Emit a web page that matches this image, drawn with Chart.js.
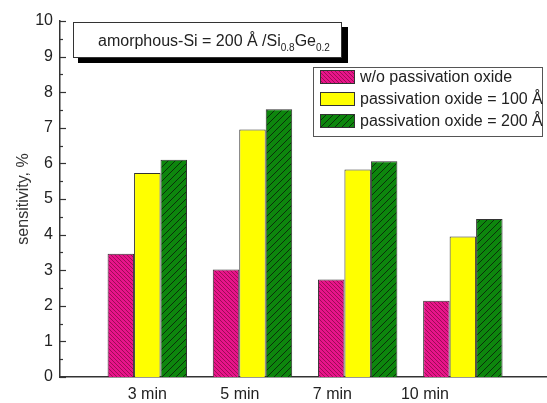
<!DOCTYPE html>
<html>
<head>
<meta charset="utf-8">
<script src="https://cdn.jsdelivr.net/npm/chart.js@4"></script>
<style>
  html, body { margin: 0; padding: 0; background: #fff; }
  #wrap { width: 547px; height: 403px; }
</style>
</head>
<body>
<div id="wrap"><canvas id="chart"></canvas></div>
<script>
const categories = ['3 min', '5 min', '7 min', '10 min'];
const seriesNames = ['w/o passivation oxide', 'passivation oxide = 100 Å', 'passivation oxide = 200 Å'];
const noOxide = [3.46, 3.02, 2.74, 2.14];
const oxide100 = [5.73, 6.95, 5.83, 3.95];
const oxide200 = [6.10, 7.52, 6.06, 4.44];
const yTicks = [0, 1, 2, 3, 4, 5, 6, 7, 8, 9, 10];

const FONT = '"Liberation Sans", Arial, Helvetica, sans-serif';
const X_MIN = -0.83, X_MAX = 3.8;
const LABEL_STEP = 0.88; // the category labels sit a bit tighter than the bar groups

// small tiled hatch fills
function hatch(bg, line, size, dir, lw) {
  const c = document.createElement('canvas');
  c.width = size; c.height = size;
  const g = c.getContext('2d');
  g.fillStyle = bg;
  g.fillRect(0, 0, size, size);
  g.strokeStyle = line;
  g.lineWidth = lw;
  g.beginPath();
  if (dir === '\\') {
    g.moveTo(0, 0); g.lineTo(size, size);
    g.moveTo(-1, size - 1); g.lineTo(1, size + 1);
    g.moveTo(size - 1, -1); g.lineTo(size + 1, 1);
  } else {
    g.moveTo(0, size); g.lineTo(size, 0);
    g.moveTo(-1, 1); g.lineTo(1, -1);
    g.moveTo(size - 1, size + 1); g.lineTo(size + 1, size - 1);
  }
  g.stroke();
  return g.createPattern(c, 'repeat');
}

const pinkFill = hatch('#e8148a', '#8a0a48', 4, '\\', 0.8);
const yellowFill = '#ffff00';
const greenFill = hatch('#0d860d', '#0a300a', 7, '/', 1);

const toPoints = vals => vals.map((v, i) => ({ x: i, y: v }));

// inward major/minor ticks on the y axis
const innerTicks = {
  id: 'innerTicks',
  afterDraw(chart) {
    const { ctx } = chart;
    const y = chart.scales.y;
    const x0 = chart.chartArea.left;
    ctx.save();
    ctx.strokeStyle = '#333';
    ctx.lineWidth = 1.2;
    for (let v = 0; v <= 10; v += 0.5) {
      const py = Math.round(y.getPixelForValue(v)) + 0.5;
      const len = Number.isInteger(v) ? 6 : 3;
      ctx.beginPath();
      ctx.moveTo(x0, py);
      ctx.lineTo(x0 + len, py);
      ctx.stroke();
    }
    ctx.restore();
  }
};

// title box with drop shadow and the in-plot legend box
const annotations = {
  id: 'annotations',
  afterDraw(chart) {
    const { ctx } = chart;
    const ds = chart.data.datasets;
    ctx.save();

    // title box
    ctx.fillStyle = '#000';
    ctx.fillRect(78, 27, 270, 36);
    ctx.fillStyle = '#fff';
    ctx.fillRect(73, 22, 269, 36);
    ctx.strokeStyle = '#333';
    ctx.lineWidth = 1;
    ctx.strokeRect(73.5, 22.5, 268, 35);

    ctx.fillStyle = '#222';
    ctx.textBaseline = 'alphabetic';
    let tx = 98;
    const ty = 46;
    const parts = [
      ['amorphous-Si = 200 Å /Si', 16, 0],
      ['0.8', 10, 5],
      ['Ge', 16, 0],
      ['0.2', 10, 5]
    ];
    parts.forEach(([t, s, dy]) => {
      ctx.font = s + 'px ' + FONT;
      ctx.fillText(t, tx, ty + dy);
      tx += ctx.measureText(t).width;
    });

    // legend box
    ctx.fillStyle = '#fff';
    ctx.fillRect(313, 67, 230, 70);
    ctx.strokeStyle = '#555';
    ctx.strokeRect(313.5, 67.5, 229, 69);
    ctx.font = '16px ' + FONT;
    ctx.textBaseline = 'middle';
    ds.forEach((d, i) => {
      const ry = 77 + i * 22;
      ctx.fillStyle = d.backgroundColor;
      ctx.fillRect(320, ry - 7, 35, 14);
      ctx.strokeStyle = '#333';
      ctx.strokeRect(320.5, ry - 6.5, 34, 13);
      ctx.fillStyle = '#222';
      ctx.fillText(d.label, 360, ry + 1);
    });
    ctx.restore();
  }
};

new Chart(document.getElementById('chart'), {
  type: 'bar',
  data: {
    datasets: [
      { label: seriesNames[0], data: toPoints(noOxide), backgroundColor: pinkFill },
      { label: seriesNames[1], data: toPoints(oxide100), backgroundColor: yellowFill },
      { label: seriesNames[2], data: toPoints(oxide200), backgroundColor: greenFill }
    ]
  },
  options: {
    responsive: true,
    maintainAspectRatio: false,
    animation: false,
    layout: { padding: { top: 21, right: 0, bottom: 0, left: 0 } },
    datasets: {
      bar: {
        borderColor: '#333',
        borderWidth: 1,
        categoryPercentage: 0.755,
        barPercentage: 1.0
      }
    },
    plugins: {
      legend: { display: false },
      tooltip: { enabled: false }
    },
    scales: {
      // axis the bars sit on: one tick per group, no labels
      x: {
        type: 'linear',
        min: X_MIN,
        max: X_MAX,
        offset: false,
        grid: { display: false, drawTicks: false },
        border: { display: true, color: '#333', width: 1.5 },
        afterBuildTicks(axis) {
          axis.ticks = categories.map((c, i) => ({ value: i }));
        },
        afterFit(axis) { axis.height = 0; },
        ticks: { display: false }
      },
      // label axis underneath
      xl: {
        type: 'linear',
        position: 'bottom',
        min: X_MIN,
        max: X_MAX,
        offset: false,
        grid: { display: false, drawTicks: false },
        border: { display: false },
        afterBuildTicks(axis) {
          axis.ticks = categories.map((c, i) => ({ value: i * LABEL_STEP }));
        },
        afterFit(axis) { axis.height = 26; },
        ticks: {
          autoSkip: false,
          maxRotation: 0,
          padding: 8,
          color: '#222',
          font: { family: FONT, size: 16 },
          callback: (v, i) => categories[i]
        }
      },
      y: {
        min: 0,
        max: 10,
        afterBuildTicks(axis) {
          axis.ticks = yTicks.map(v => ({ value: v }));
        },
        afterFit(axis) { axis.width = 60; },
        grid: { display: false, drawTicks: false },
        border: { display: true, color: '#333', width: 1.5 },
        ticks: {
          padding: 7,
          color: '#222',
          font: { family: FONT, size: 16 }
        },
        title: {
          display: true,
          text: 'sensitivity, %',
          color: '#333',
          font: { family: FONT, size: 16 },
          padding: { top: 14, bottom: 0 }
        }
      }
    }
  },
  plugins: [innerTicks, annotations]
});
</script>
</body>
</html>
